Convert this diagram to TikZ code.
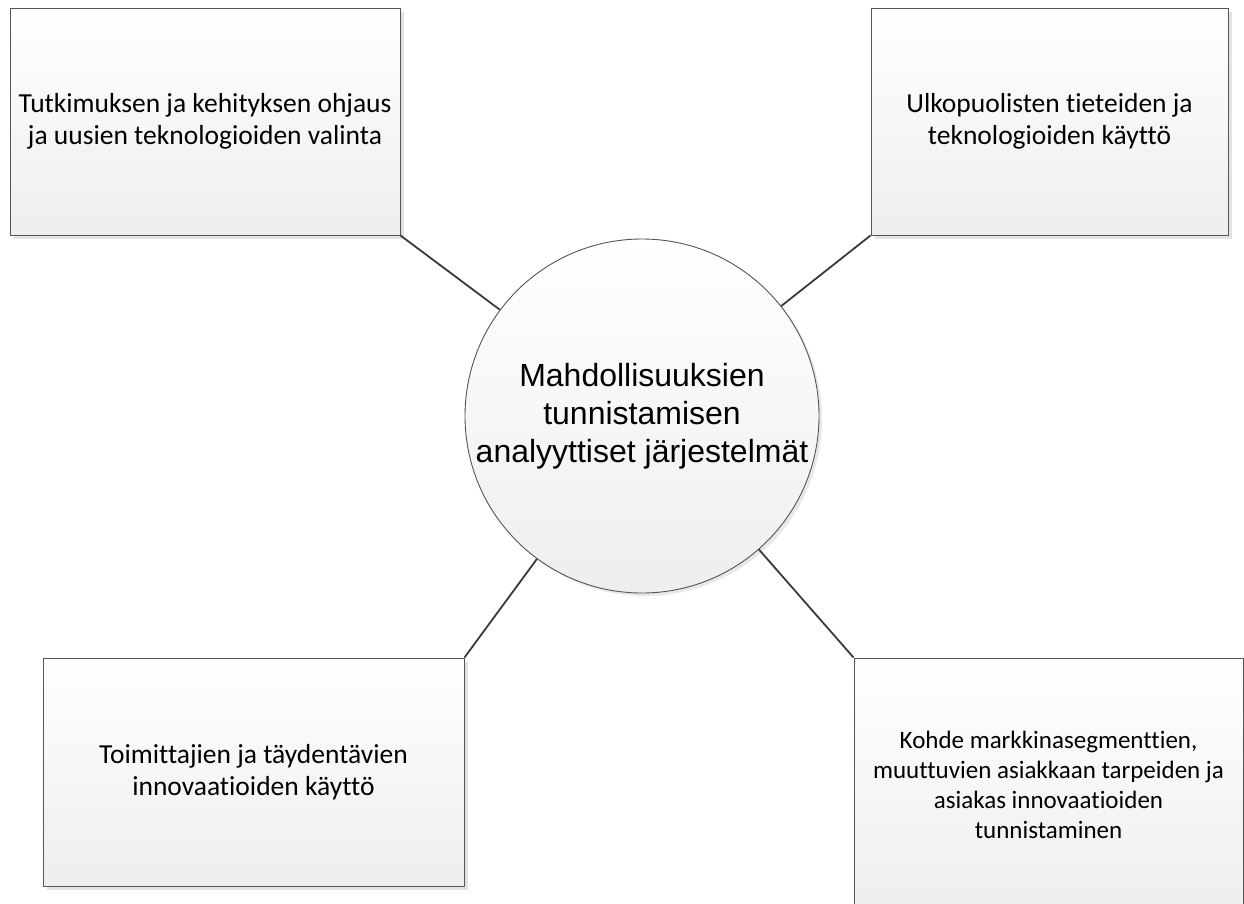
\documentclass[tikz,border=0pt]{standalone}
\usepackage{fontspec}
\newfontfamily\boxfont[Ligatures=NoCommon]{Carlito}
\newfontfamily\hubfont{Liberation Sans}
\usetikzlibrary{shadows}
\definecolor{edgegray}{HTML}{555555}
\definecolor{linkgray}{HTML}{3A3A3A}
\definecolor{fillgray}{HTML}{EEEEEE}
\tikzset{
  % Outer box
  tbox/.style={draw=edgegray, line width=0.9pt, shape=rectangle,
    top color=white, bottom color=fillgray, align=center, inner sep=0pt,
    font=\boxfont\fontsize{27.5}{32}\selectfont,
    drop shadow={shadow xshift=3.5pt, shadow yshift=-3.5pt, fill=black!11, opacity=1}},
  % Central node
  hub/.style={draw=edgegray, line width=0.9pt, shape=circle, minimum size=354pt,
    top color=white, bottom color=fillgray, align=center, inner sep=0pt,
    font=\hubfont\fontsize{32}{38}\selectfont,
    drop shadow={shadow xshift=3pt, shadow yshift=-3pt, fill=black!9, opacity=1}},
  % Connector
  link/.style={draw=linkgray, line width=1.8pt},
}

\begin{document}
\begin{tikzpicture}[x=1pt, y=-1pt]
  \clip (0,0) rectangle (1244,903);
  \fill[white] (0,0) rectangle (1244,903);

  \node[hub] (hub) at (642,416)
    {Mahdollisuuksien\\tunnistamisen\\analyyttiset järjestelmät};

  \node[tbox, minimum width=390pt, minimum height=227pt] (tl) at (205,121.5)
    {Tutkimuksen ja kehityksen ohjaus\\ja uusien teknologioiden valinta};
  \node[tbox, minimum width=357pt, minimum height=227pt] (tr) at (1049.5,121.5)
    {Ulkopuolisten tieteiden ja\\teknologioiden käyttö};
  \node[tbox, minimum width=421pt, minimum height=228pt] (bl) at (253.5,772)
    {Toimittajien ja täydentävien\\innovaatioiden käyttö};
  \node[tbox, minimum width=389pt, minimum height=254pt,
    font=\boxfont\fontsize{25}{30}\selectfont] (br) at (1048.5,785)
    {Kohde markkinasegmenttien,\\muuttuvien asiakkaan tarpeiden ja\\asiakas innovaatioiden\\tunnistaminen};

  \draw[link] (tl.south east) -- (hub);
  \draw[link] (tr.south west) -- (hub);
  \draw[link] (bl.north east) -- (hub);
  \draw[link] (br.north west) -- (hub);
\end{tikzpicture}
\end{document}
